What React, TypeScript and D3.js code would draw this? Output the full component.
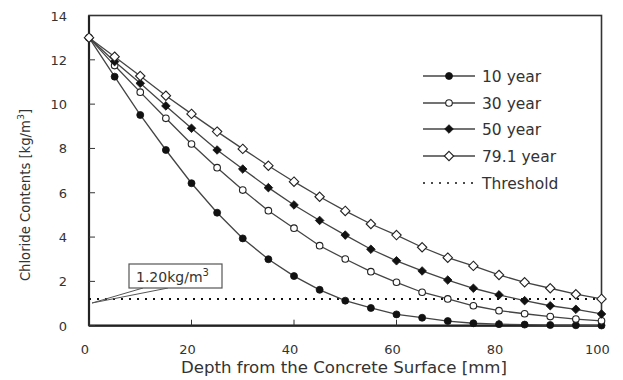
import * as d3 from 'd3';

const depths = [0, 5, 10, 15, 20, 25, 30, 35, 40, 45, 50, 55, 60, 65, 70, 75, 80, 85, 90, 95, 100];
const year10 = [13, 11.24, 9.51, 7.93, 6.43, 5.1, 3.94, 3.0, 2.24, 1.62, 1.13, 0.8, 0.51, 0.36, 0.21, 0.11, 0.07, 0.05, 0.03, 0.02, 0.01];
const year30 = [13, 11.74, 10.54, 9.36, 8.2, 7.13, 6.12, 5.19, 4.4, 3.61, 3.01, 2.44, 1.96, 1.51, 1.21, 0.9, 0.68, 0.54, 0.41, 0.3, 0.22];
const year50 = [13, 11.92, 10.94, 9.92, 8.91, 7.93, 7.07, 6.23, 5.45, 4.75, 4.09, 3.45, 2.93, 2.47, 2.06, 1.69, 1.39, 1.13, 0.9, 0.74, 0.53];
const year79 = [13, 12.14, 11.27, 10.38, 9.56, 8.76, 7.98, 7.22, 6.5, 5.82, 5.18, 4.59, 4.09, 3.54, 3.07, 2.7, 2.29, 1.96, 1.69, 1.42, 1.21];
const threshold = 1.2;

const seriesNames = ['10 year', '30 year', '50 year', '79.1 year'];
const seriesValues = [year10, year30, year50, year79];
const xTicks = [0, 20, 40, 60, 80, 100];
const yTicks = [0, 2, 4, 6, 8, 10, 12, 14];

const font = '"DejaVu Sans", Verdana, sans-serif';
const textColor = '#333';
const lineColor = '#444';

function Marker({ kind, cx, cy }: { kind: number; cx: number; cy: number }) {
  if (kind === 0) return <circle cx={cx} cy={cy} r={3.5} fill="#111" stroke="#111" strokeWidth={0.8} />;
  if (kind === 1) return <circle cx={cx} cy={cy} r={3.3} fill="#fff" stroke="#222" strokeWidth={1.1} />;
  const s = kind === 2 ? 4.3 : 4.7;
  const d = `M${cx},${cy - s}L${cx + s},${cy}L${cx},${cy + s}L${cx - s},${cy}Z`;
  return kind === 2 ? (
    <path d={d} fill="#111" stroke="#111" strokeWidth={0.8} />
  ) : (
    <path d={d} fill="#fff" stroke="#222" strokeWidth={1.1} />
  );
}

export default function App() {
  const width = 623;
  const height = 380;
  const left = 89;
  const right = 601.5;
  const top = 15.5;
  const bottom = 325.7;

  const x = d3.scaleLinear().domain([0, 100]).range([left, right]);
  const y = d3.scaleLinear().domain([0, 14]).range([bottom, top]);

  const line = d3
    .line<number>()
    .x((_, i) => x(depths[i]))
    .y((v) => y(v));

  const legendX = 423;
  const legendRows = [76, 103, 129, 156, 183];

  return (
    <div style={{ position: 'absolute', left: 0, top: 0 }}>
      <style>{'body{margin:0}'}</style>
      <svg width={width} height={height} viewBox={`0 0 ${width} ${height}`} style={{ display: 'block', background: '#fff' }}>
        {/* frame */}
        <rect x={left} y={top} width={right - left} height={bottom - top} fill="none" stroke="#333" strokeWidth={1.6} />
        <line x1={left} x2={left} y1={top} y2={bottom} stroke="#222" strokeWidth={2.2} />
        <line x1={left} x2={right} y1={bottom} y2={bottom} stroke="#222" strokeWidth={2.2} />

        {yTicks.map((t) => (
          <g key={`y${t}`}>
            <line x1={left} x2={left + 6} y1={y(t)} y2={y(t)} stroke="#333" strokeWidth={1} />
            <text x={67} y={y(t) + 5} textAnchor="end" fontSize={13} fontFamily={font} fill={textColor}>
              {t}
            </text>
          </g>
        ))}
        {xTicks.map((t) => (
          <g key={`x${t}`}>
            <line x1={x(t)} x2={x(t)} y1={bottom} y2={bottom - 6} stroke="#333" strokeWidth={1} />
            <text x={x(t) - 4} y={354} textAnchor="middle" fontSize={13} fontFamily={font} fill={textColor}>
              {t}
            </text>
          </g>
        ))}

        <text x={344} y={373} textAnchor="middle" fontSize={16.6} fontFamily={font} fill={textColor}>
          Depth from the Concrete Surface [mm]
        </text>
        <text
          transform={`translate(30,195) rotate(-90)`}
          textAnchor="middle"
          fontSize={13.2}
          fontFamily={font}
          fill={textColor}
        >
          Chloride Contents [kg/m<tspan dy={-6} fontSize={9.5}>3</tspan>
          <tspan dy={6}>]</tspan>
        </text>

        {/* threshold */}
        <line
          x1={x(0)}
          x2={x(100)}
          y1={y(threshold)}
          y2={y(threshold)}
          stroke="#111"
          strokeWidth={2}
          strokeDasharray="2 6"
        />

        {seriesValues.map((vals, k) => (
          <g key={seriesNames[k]}>
            <path d={line(vals) ?? ''} fill="none" stroke={lineColor} strokeWidth={1.3} />
            {vals.map((v, i) => (
              <Marker key={i} kind={k} cx={x(depths[i])} cy={y(v)} />
            ))}
          </g>
        ))}

        {/* annotation */}
        <path d={`M143,288L92,303L168,288`} fill="none" stroke="#555" strokeWidth={1} />
        <rect x={129} y={264} width={93} height={24} fill="#fff" stroke="#555" strokeWidth={1.2} />
        <text x={136} y={282} fontSize={14} fontFamily={font} fill={textColor}>
          1.20kg/m<tspan dy={-6} fontSize={10}>3</tspan>
        </text>

        {/* legend */}
        {seriesNames.map((name, k) => (
          <g key={`lg${name}`}>
            <line x1={legendX} x2={legendX + 52} y1={legendRows[k]} y2={legendRows[k]} stroke={lineColor} strokeWidth={1.3} />
            <Marker kind={k} cx={legendX + 26} cy={legendRows[k]} />
            <text x={482} y={legendRows[k] + 5.5} fontSize={15.5} fontFamily={font} fill={textColor}>
              {name}
            </text>
          </g>
        ))}
        <line
          x1={legendX}
          x2={legendX + 52}
          y1={legendRows[4]}
          y2={legendRows[4]}
          stroke="#111"
          strokeWidth={1.5}
          strokeDasharray="2 6"
        />
        <text x={482} y={legendRows[4] + 5.5} fontSize={15.5} fontFamily={font} fill={textColor}>
          Threshold
        </text>
      </svg>
    </div>
  );
}
